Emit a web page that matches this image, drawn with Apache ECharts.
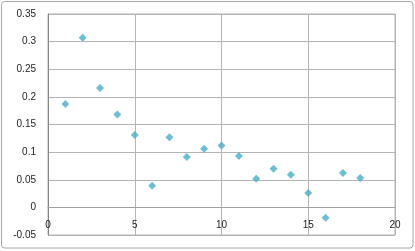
<!DOCTYPE html>
<html>
<head>
<meta charset="utf-8">
<script src="https://cdn.jsdelivr.net/npm/echarts@6/dist/echarts.min.js"></script>
<style>
html,body{margin:0;padding:0;background:#fff;}
#chart{width:415px;height:251px;}
</style>
</head>
<body>
<div id="chart"></div>
<script>
var xValues = [1, 2, 3, 4, 5, 6, 7, 8, 9, 10, 11, 12, 13, 14, 15, 16, 17, 18];
var yValues = [0.187, 0.307, 0.216, 0.168, 0.131, 0.039, 0.127, 0.091, 0.106, 0.112, 0.093, 0.052, 0.070, 0.059, 0.026, -0.019, 0.062, 0.053];
var xTicks = { min: 0, max: 20, interval: 5 };
var yTicks = { min: -0.05, max: 0.35, interval: 0.05 };

var points = xValues.map(function (x, i) { return [x, yValues[i]]; });

var gridTop = 14, gridBottom = 16, chartH = 251;
var plotH = chartH - gridTop - gridBottom;
// x axis crosses the y axis at value 0
var zeroOffset = -plotH * (0 - yTicks.min) / (yTicks.max - yTicks.min);

var chart = echarts.init(document.getElementById('chart'), null, { renderer: 'canvas' });
var fontFamily = '"Liberation Sans", Arial, sans-serif';
chart.setOption({
  animation: false,
  backgroundColor: '#ffffff',
  graphic: [{
    type: 'rect',
    shape: { x: 1.5, y: 1.5, width: 411.5, height: 246.5, r: 3 },
    style: { fill: 'none', stroke: '#a6a6a6', lineWidth: 1 },
    silent: true
  }],
  grid: {
    left: 48, top: gridTop, right: 20, bottom: gridBottom,
    show: true, borderColor: '#b4b4b4', borderWidth: 1
  },
  xAxis: {
    type: 'value',
    min: xTicks.min, max: xTicks.max, interval: xTicks.interval,
    offset: zeroOffset,
    axisLine: { show: true, onZero: false, lineStyle: { color: '#a0a0a0', width: 1 } },
    axisTick: { show: false },
    axisLabel: { color: '#222', fontSize: 10, fontFamily: fontFamily, margin: 13 },
    splitLine: { show: true, lineStyle: { color: '#b4b4b4', width: 1 } }
  },
  yAxis: {
    type: 'value',
    min: yTicks.min, max: yTicks.max, interval: yTicks.interval,
    axisLine: { show: true, onZero: false, lineStyle: { color: '#868686', width: 1 } },
    axisTick: { show: false },
    axisLabel: {
      color: '#222', fontSize: 10, fontFamily: fontFamily, margin: 12,
      formatter: function (v) { return String(Math.round(v * 100) / 100); }
    },
    splitLine: { show: true, lineStyle: { color: '#b4b4b4', width: 1 } }
  },
  series: [{
    type: 'scatter',
    data: points,
    symbol: 'diamond',
    symbolSize: 8,
    itemStyle: { color: '#4bacc6' }
  }]
});
</script>
</body>
</html>
